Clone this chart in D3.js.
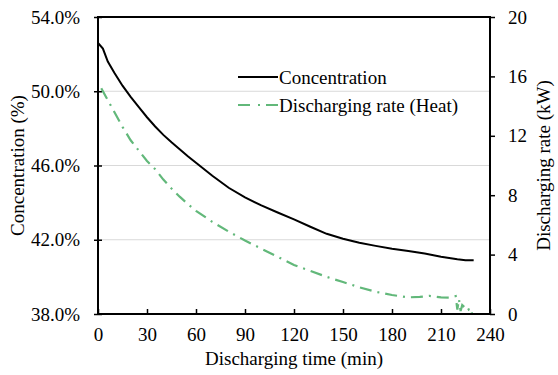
<!DOCTYPE html>
<html>
<head>
<meta charset="utf-8">
<script src="https://cdn.jsdelivr.net/npm/d3@7"></script>
<style>
  body { margin: 0; background: #fff; }
  svg { display: block; font-family: 'Liberation Serif', 'Times New Roman', serif; }
</style>
</head>
<body>
<svg id="chart" width="558" height="375"></svg>
<script>
// Concentration (%), black solid line
const concTime = [0, 3, 6, 10, 15, 20, 25, 30, 35, 40, 45, 50, 55, 60, 70, 80, 90, 100, 110, 120, 130, 140, 150, 160, 170, 180, 190, 200, 210, 220, 225, 230];
const concValue = [52.6, 52.3, 51.6, 51.0, 50.3, 49.7, 49.15, 48.6, 48.1, 47.65, 47.25, 46.88, 46.5, 46.15, 45.45, 44.8, 44.28, 43.85, 43.47, 43.1, 42.7, 42.32, 42.05, 41.84, 41.67, 41.52, 41.4, 41.26, 41.09, 40.95, 40.9, 40.9];

// Discharging rate (kW), green dash-dot line
const rateTime = [2, 5, 10, 15, 20, 25, 30, 35, 40, 45, 50, 55, 60, 70, 80, 90, 100, 110, 120, 130, 140, 150, 160, 170, 180, 190, 197, 203, 210, 215, 219, 220, 221, 222, 223, 224, 225, 226, 227, 228, 229];
const rateValue = [15.2, 14.6, 13.6, 12.6, 11.7, 11.0, 10.3, 9.75, 9.05, 8.45, 7.9, 7.4, 6.95, 6.2, 5.55, 4.95, 4.4, 3.85, 3.3, 2.9, 2.5, 2.15, 1.8, 1.5, 1.28, 1.12, 1.15, 1.22, 1.12, 1.1, 1.2, 0.3, 1.0, 0.2, 0.6, 0.5, 0.4, 0.5, 0.3, 0.4, 0.0];

const xTicks = [0, 30, 60, 90, 120, 150, 180, 210, 240];
const yLeftTicks = [38, 42, 46, 50, 54];
const yRightTicks = [0, 4, 8, 12, 16, 20];

const margin = { top: 17, right: 68, bottom: 61, left: 98 },
  width = 558,
  height = 375,
  green = '#62b87a',
  fontSize = '19px';

const svg = d3.select('#chart');

const x = d3.scaleLinear().domain([0, 240]).range([margin.left, width - margin.right]);
const yL = d3.scaleLinear().domain([38, 54]).range([height - margin.bottom, margin.top]);
const yR = d3.scaleLinear().domain([0, 20]).range([height - margin.bottom, margin.top]);

// gridlines
svg.append('g')
  .selectAll('line')
  .data(yLeftTicks.slice(1, -1))
  .join('line')
  .attr('x1', margin.left)
  .attr('x2', width - margin.right)
  .attr('y1', d => yL(d))
  .attr('y2', d => yL(d))
  .attr('stroke', '#d9d9d9')
  .attr('stroke-width', 1);

// left axis
svg.append('g')
  .attr('transform', `translate(${margin.left},0)`)
  .call(d3.axisLeft(yL).tickValues(yLeftTicks).tickSizeInner(4).tickSizeOuter(0).tickPadding(14).tickFormat(d => d.toFixed(1) + '%'))
  .call(g => g.select('.domain').remove())
  .call(g => g.selectAll('.tick line').attr('x2', 4).attr('x1', -4).attr('stroke', '#000').attr('stroke-width', 1.5))
  .call(g => g.selectAll('.tick text').attr('font-size', fontSize).attr('font-family', 'Liberation Serif').attr('fill', '#000'));

// right axis
svg.append('g')
  .attr('transform', `translate(${width - margin.right},0)`)
  .call(d3.axisRight(yR).tickValues(yRightTicks).tickSizeInner(5).tickSizeOuter(0).tickPadding(13))
  .call(g => g.select('.domain').remove())
  .call(g => g.selectAll('.tick line').attr('stroke', '#000').attr('stroke-width', 1.5))
  .call(g => g.selectAll('.tick text').attr('font-size', fontSize).attr('font-family', 'Liberation Serif').attr('fill', '#000'));

// bottom axis
svg.append('g')
  .attr('transform', `translate(0,${height - margin.bottom})`)
  .call(d3.axisBottom(x).tickValues(xTicks).tickSizeInner(-5).tickSizeOuter(0).tickPadding(14))
  .call(g => g.select('.domain').remove())
  .call(g => g.selectAll('.tick line').attr('stroke', '#000').attr('stroke-width', 1.5))
  .call(g => g.selectAll('.tick text').attr('font-size', fontSize).attr('font-family', 'Liberation Serif').attr('fill', '#000'));

// lines
const concData = concTime.map((t, i) => ({ t, v: concValue[i] }));
const rateData = rateTime.map((t, i) => ({ t, v: rateValue[i] }));

svg.append('path')
  .datum(rateData)
  .attr('fill', 'none')
  .attr('stroke', green)
  .attr('stroke-width', 2.2)
  .attr('stroke-dasharray', '12,6,2,6')
  .attr('d', d3.line().x(d => x(d.t)).y(d => yR(d.v)));

svg.append('path')
  .datum(concData)
  .attr('fill', 'none')
  .attr('stroke', '#000')
  .attr('stroke-width', 2)
  .attr('d', d3.line().x(d => x(d.t)).y(d => yL(d.v)));

// frame
svg.append('rect')
  .attr('x', margin.left)
  .attr('y', margin.top)
  .attr('width', width - margin.left - margin.right)
  .attr('height', height - margin.top - margin.bottom)
  .attr('fill', 'none')
  .attr('stroke', '#000')
  .attr('stroke-width', 2);

// axis titles
svg.append('text')
  .attr('transform', `translate(${(margin.left + width - margin.right) / 2},365)`)
  .attr('text-anchor', 'middle')
  .attr('font-size', fontSize)
  .text('Discharging time (min)');

svg.append('text')
  .attr('transform', `translate(17,${(margin.top + height - margin.bottom) / 2}) rotate(-90)`)
  .attr('text-anchor', 'middle')
  .attr('dy', '0.35em')
  .attr('font-size', fontSize)
  .text('Concentration (%)');

svg.append('text')
  .attr('transform', `translate(543,${(margin.top + height - margin.bottom) / 2}) rotate(-90)`)
  .attr('text-anchor', 'middle')
  .attr('dy', '0.35em')
  .attr('font-size', fontSize)
  .text('Discharging rate (kW)');

// legend
const legend = [
  { label: 'Concentration', color: '#000', dash: null },
  { label: 'Discharging rate (Heat)', color: green, dash: '12,8,2,6' }
];
const lg = svg.append('g').attr('transform', 'translate(238,77)');
lg.selectAll('line')
  .data(legend)
  .join('line')
  .attr('x1', 0)
  .attr('x2', 40)
  .attr('y1', (d, i) => i * 28)
  .attr('y2', (d, i) => i * 28)
  .attr('stroke', d => d.color)
  .attr('stroke-width', 2)
  .attr('stroke-dasharray', d => d.dash);
lg.selectAll('text')
  .data(legend)
  .join('text')
  .attr('x', 41)
  .attr('y', (d, i) => i * 28)
  .attr('dy', '0.35em')
  .attr('font-size', fontSize)
  .text(d => d.label);
</script>
</body>
</html>
